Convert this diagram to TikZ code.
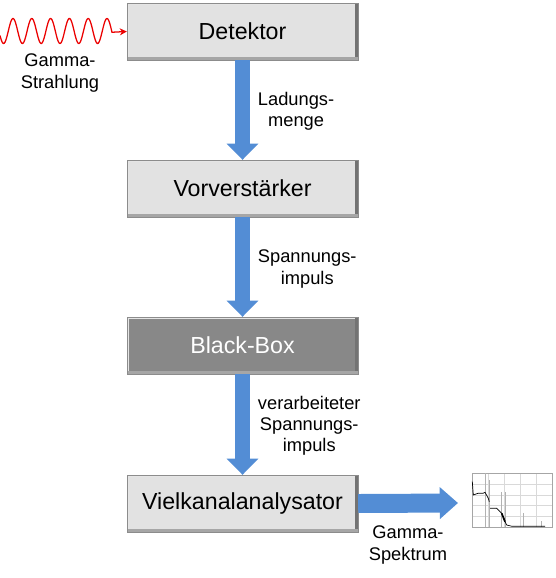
\documentclass[tikz,border=0pt]{standalone}
\usepackage{fontspec}
\setmainfont{Liberation Sans}
\usetikzlibrary{positioning}
\usetikzlibrary{arrows.meta}
\definecolor{boxgray}{RGB}{226,226,226}
\definecolor{bbgray}{RGB}{136,136,136}
\definecolor{flowblue}{RGB}{83,141,213}
\definecolor{wavered}{RGB}{235,0,0}

\begin{document}
\begin{tikzpicture}[x=0.025cm,y=-0.025cm,
  stage/.style={draw=gray!90,fill=boxgray,minimum width=5.77cm,minimum height=1.42cm,inner sep=0pt,font=\fontsize{16.5}{19}\selectfont,
    path picture={
      \draw[white!80!gray,line width=3pt] (path picture bounding box.south west) -- (path picture bounding box.north west) -- (path picture bounding box.north east);
      \draw[black!55,line width=4pt] (path picture bounding box.north east) -- (path picture bounding box.south east);
      \draw[black!35,line width=3.5pt] (path picture bounding box.south east) -- (path picture bounding box.south west);}},
  lbl/.style={align=center,font=\fontsize{13}{15}\selectfont},
  flow/.style={flowblue,line width=10pt,-{Triangle[length=11.5pt,width=22pt]}},
  spec/.style={line width=0.3pt}]

\useasboundingbox (0,0) rectangle (555,578);

% Stufen der Messkette
\node[stage] (det) at (242.5,31.5) {Detektor};
\node[stage] (vor) at (242.5,188.5) {Vorverstärker};
\node[stage,fill=bbgray,text=white] (bb) at (242.5,345.5) {Black-Box};
\node[stage] (mca) at (242.5,503.5) {Vielkanalanalysator};

% Gammastrahlung
\draw[wavered,line width=0.9pt,-{Stealth[length=5pt,width=5pt]}]
  plot[domain=0:112,samples=160,smooth] (\x,{31-12.5*cos(19.149*(\x-13))}) -- (det.west);
\node[lbl] (gam) at (60,73) {Gamma-\\Strahlung};

% Signalfluss
\draw[flow] (det.south) -- (vor.north);
\draw[flow] (vor.south) -- (bb.north);
\draw[flow] (bb.south) -- (mca.north);
\coordinate (specin) at (458,503);
\draw[flowblue,line width=13.5pt,-{Triangle[length=13pt,width=22pt]}] (mca.east) -- (specin);

\node[lbl,anchor=west] (lad) at (253,111) {Ladungs-\\menge};
\node[lbl,anchor=west] (spi) at (253,269) {Spannungs-\\impuls};
\node[lbl,anchor=west] (vsp) at (253,426) {verarbeiteter\\Spannungs-\\impuls};
\node[lbl] (gsp) at (408,545) {Gamma-\\Spektrum};

% Spektrum
\fill[white] (462,466) rectangle (555,533);
\foreach \gx in {472,488,504,520,536,552}
  \draw[spec,gray!30] (\gx,473) -- (\gx,527);
\foreach \gy in {473,484,495,505,516,527}
  \draw[spec,gray!30] (472,\gy) -- (552,\gy);
\draw[spec,gray!70] (472,473) rectangle (552,527);
\draw[spec,gray!60] (485.7,527) -- (485.7,473.3);
\draw[spec,gray!60] (489,527) -- (489,480);
\draw[spec,gray!60] (501.7,527) -- (501.7,491.7);
\draw[spec,gray!60] (505,527) -- (505,491.7);
\draw[spec,gray!60] (523,527) -- (523,513);
\draw[spec,gray!60] (541,527) -- (541,521);
\draw[line width=0.5pt] (472.3,481.7) -- (473.3,495) -- (478,493.3) -- (483,493.3) -- (485,492.3)
  -- (488.3,498.3) -- (489.3,501.7) (490,508.3) -- (496.7,508.3) -- (498.3,510) -- (501.7,513.3)
  -- (505,521.7) -- (506.7,525) -- (512,526.3) -- (545,526.3);
\draw[line width=1.2pt] (501.7,513.3) -- (505,521.7);
\end{tikzpicture}
\end{document}
